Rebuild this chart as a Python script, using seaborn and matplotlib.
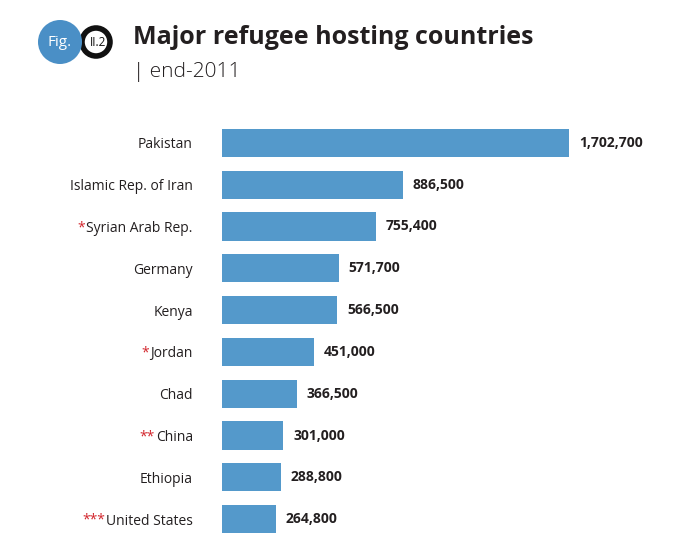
import matplotlib
matplotlib.use("Agg")
import matplotlib.pyplot as plt
import seaborn as sns
import pandas as pd
from matplotlib.patches import Circle

countries = ["Pakistan", "Islamic Rep. of Iran", "Syrian Arab Rep.", "Germany", "Kenya",
             "Jordan", "Chad", "China", "Ethiopia", "United States"]
marks = ["", "", "*", "", "", "*", "", "**", "", "***"]
refugees = [1702700, 886500, 755400, 571700, 566500, 451000, 366500, 301000, 288800, 264800]

df = pd.DataFrame({"country": countries, "refugees": refugees})

sns.set_theme(style="white")
plt.rcParams['font.family'] = ['Open Sans', 'DejaVu Sans']

W, H = 687, 554
fig = plt.figure(figsize=(W / 100, H / 100), dpi=100)
fig.patch.set_facecolor("white")

left_px, right_px = 222, 687
top_px, bot_px = 122, 540
ax = fig.add_axes([left_px / W, 1 - bot_px / H, (right_px - left_px) / W, (bot_px - top_px) / H])

bar_color = "#5499cb"
sns.barplot(data=df, x="refugees", y="country", color=bar_color, width=0.67,
            saturation=1, linewidth=0, ax=ax)

px_per_unit = 347 / 1702700
ax.set_xlim(0, (right_px - left_px) / px_per_unit)
ax.set_ylim(9.5, -0.5)
ax.set_xlabel("")
ax.set_ylabel("")
ax.set_xticks([])
for s in ax.spines.values():
    s.set_visible(False)
ax.tick_params(axis="y", length=0, pad=21)
ax.set_yticks(range(len(countries)))
ax.set_yticklabels(countries, fontsize=10, color="#231f20")

for i, v in enumerate(refugees):
    ax.text(v + 10 / px_per_unit, i, f"{v:,}", va="center", ha="left",
            fontsize=10, fontweight="bold", color="#231f20")

fig.canvas.draw()
renderer = fig.canvas.get_renderer()
for lbl, m in zip(ax.get_yticklabels(), marks):
    if not m:
        continue
    bb = lbl.get_window_extent(renderer)
    x0, y0 = fig.transFigure.inverted().transform((bb.x0 - 1, (bb.y0 + bb.y1) / 2 + 1))
    fig.text(x0, y0, m, ha="right", va="center", fontsize=10, color="#d2232a")

# Header
fig.text(133 / W, 1 - 37 / H, "Major refugee hosting countries", fontsize=18,
         fontweight="bold", color="#231f20", ha="left", va="center")
fig.text(133 / W, 1 - 72 / H, "| end-2011", fontsize=15, color="#231f20",
         ha="left", va="center", fontweight="light")

circ_ax = fig.add_axes([0, 0, 1, 1], zorder=-1)
circ_ax.set_xlim(0, W)
circ_ax.set_ylim(H, 0)
circ_ax.axis("off")
circ_ax.add_patch(Circle((96, 42), 14, facecolor="white", edgecolor="#111111", linewidth=4))
circ_ax.add_patch(Circle((60, 42), 22, facecolor="#4a8fc6", edgecolor="none"))
circ_ax.text(60, 42, "Fig.", color="white", fontsize=11, ha="center", va="center")
circ_ax.text(98, 42, "II.2", color="#111111", fontsize=8.5, ha="center", va="center")

fig.savefig("out.png", dpi=100, facecolor="white")
